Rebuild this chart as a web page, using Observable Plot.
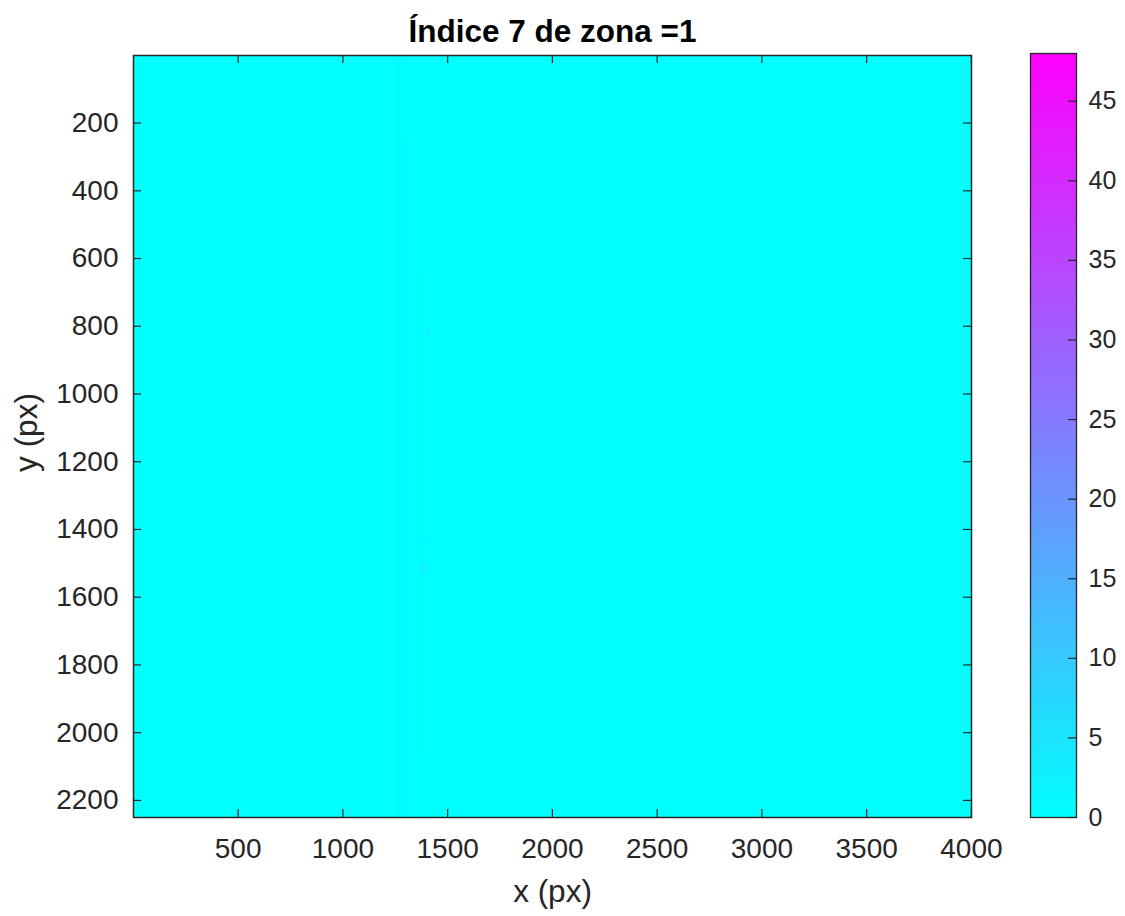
<!DOCTYPE html>
<html>
<head>
<meta charset="utf-8">
<script src="https://cdn.jsdelivr.net/npm/d3@7"></script>
<script src="https://cdn.jsdelivr.net/npm/@observablehq/plot@0.6"></script>
<style>
  body { margin: 0; background: #fff; }
  #wrap { position: relative; width: 1125px; height: 916px; overflow: hidden; }
  #wrap svg { position: absolute; top: 0; }
</style>
</head>
<body>
<div id="wrap"></div>
<script>
// ---- data ----
const titleText = "Índice 7 de zona =1";
const xLabel = "x (px)";
const yLabel = "y (px)";
const xDomain = [0.5, 4000.5];
const yDomain = [0.5, 2250.5];
const colorDomain = [0, 48];
const xTicks = [500, 1000, 1500, 2000, 2500, 3000, 3500, 4000];
const yTicks = [200, 400, 600, 800, 1000, 1200, 1400, 1600, 1800, 2000, 2200];
const cbTicks = [0, 5, 10, 15, 20, 25, 30, 35, 40, 45];

// image regions (x1, x2, y1, y2, value): background + faint streak + few spots
const cellX1 = [0.5, 1250, 1290, 1355, 1374, 1370, 1398];
const cellX2 = [4000.5, 1285, 1320, 1395, 1394, 1388, 1418];
const cellY1 = [0.5, 0.5, 250, 650, 1500, 1412, 810];
const cellY2 = [2250.5, 2250.5, 2250.5, 2050, 1524, 1434, 832];
const cellValue = [0, 0.35, 0.6, 0.45, 4.5, 2.5, 2.2];

const cells = cellX1.map((_, i) => ({x1: cellX1[i], x2: cellX2[i], y1: cellY1[i], y2: cellY2[i], v: cellValue[i]}));

const font = "'Liberation Sans', Arial, Helvetica, sans-serif";
const ink = "#262626";
const fmt = d => String(d);
const colorScale = {type: "linear", domain: colorDomain, range: ["#00ffff", "#ff00ff"], interpolate: "rgb"};

const main = Plot.plot({
  width: 1125, height: 916,
  marginLeft: 133, marginRight: 154, marginTop: 55, marginBottom: 99,
  style: {fontFamily: font, color: ink, background: "transparent", overflow: "visible"},
  x: {domain: xDomain},
  y: {domain: yDomain, reverse: true},
  color: colorScale,
  marks: [
    Plot.rect(cells, {x1: "x1", x2: "x2", y1: "y1", y2: "y2", fill: "v", clip: true}),
    Plot.tickX(xTicks, {x: d => d, insetTop: 754, stroke: ink, strokeWidth: 1.2}),
    Plot.tickX(xTicks, {x: d => d, insetBottom: 754, stroke: ink, strokeWidth: 1.2}),
    Plot.tickY(yTicks, {y: d => d, insetRight: 830, stroke: ink, strokeWidth: 1.2}),
    Plot.tickY(yTicks, {y: d => d, insetLeft: 830, stroke: ink, strokeWidth: 1.2}),
    Plot.frame({stroke: ink, strokeWidth: 1.5}),
    Plot.axisX(xTicks, {anchor: "bottom", tickSize: 0, tickPadding: 21, fontSize: 28, tickFormat: fmt, label: null, fill: ink}),
    Plot.axisY(yTicks, {anchor: "left", tickSize: 0, tickPadding: 15, fontSize: 28, tickFormat: fmt, label: null, fill: ink}),
    Plot.text([titleText], {text: d => d, frameAnchor: "top", dy: -14, lineAnchor: "bottom", fontSize: 31.5, fontWeight: "bold", fill: "#000"}),
    Plot.text([xLabel], {text: d => d, frameAnchor: "bottom", dy: 84, lineAnchor: "bottom", fontSize: 31.5, fill: ink}),
    Plot.text([yLabel], {text: d => d, frameAnchor: "left", dx: -97, dy: -4, rotate: -90, textAnchor: "middle", lineAnchor: "bottom", fontSize: 31.5, fill: ink})
  ]
});
main.style.left = "0px";

const bar = Plot.plot({
  width: 125, height: 916,
  marginLeft: 30, marginRight: 49, marginTop: 53, marginBottom: 99,
  style: {fontFamily: font, color: ink, background: "transparent", overflow: "visible"},
  x: {domain: [0, 1], axis: null},
  y: {domain: colorDomain},
  color: colorScale,
  marks: [
    Plot.raster({x1: 0, x2: 1, y1: colorDomain[0], y2: colorDomain[1], width: 2, height: 480, fill: (x, y) => y, imageRendering: "auto"}),
    Plot.tickY(cbTicks, {y: d => d, insetLeft: 38, stroke: ink, strokeWidth: 1.2}),
    Plot.frame({stroke: ink, strokeWidth: 1.3}),
    Plot.axisY(cbTicks, {anchor: "right", tickSize: 0, tickPadding: 12, fontSize: 25, tickFormat: fmt, label: null, fill: ink})
  ]
});
bar.style.left = "1000px";

const wrap = document.getElementById("wrap");
wrap.appendChild(main);
wrap.appendChild(bar);
</script>
</body>
</html>
